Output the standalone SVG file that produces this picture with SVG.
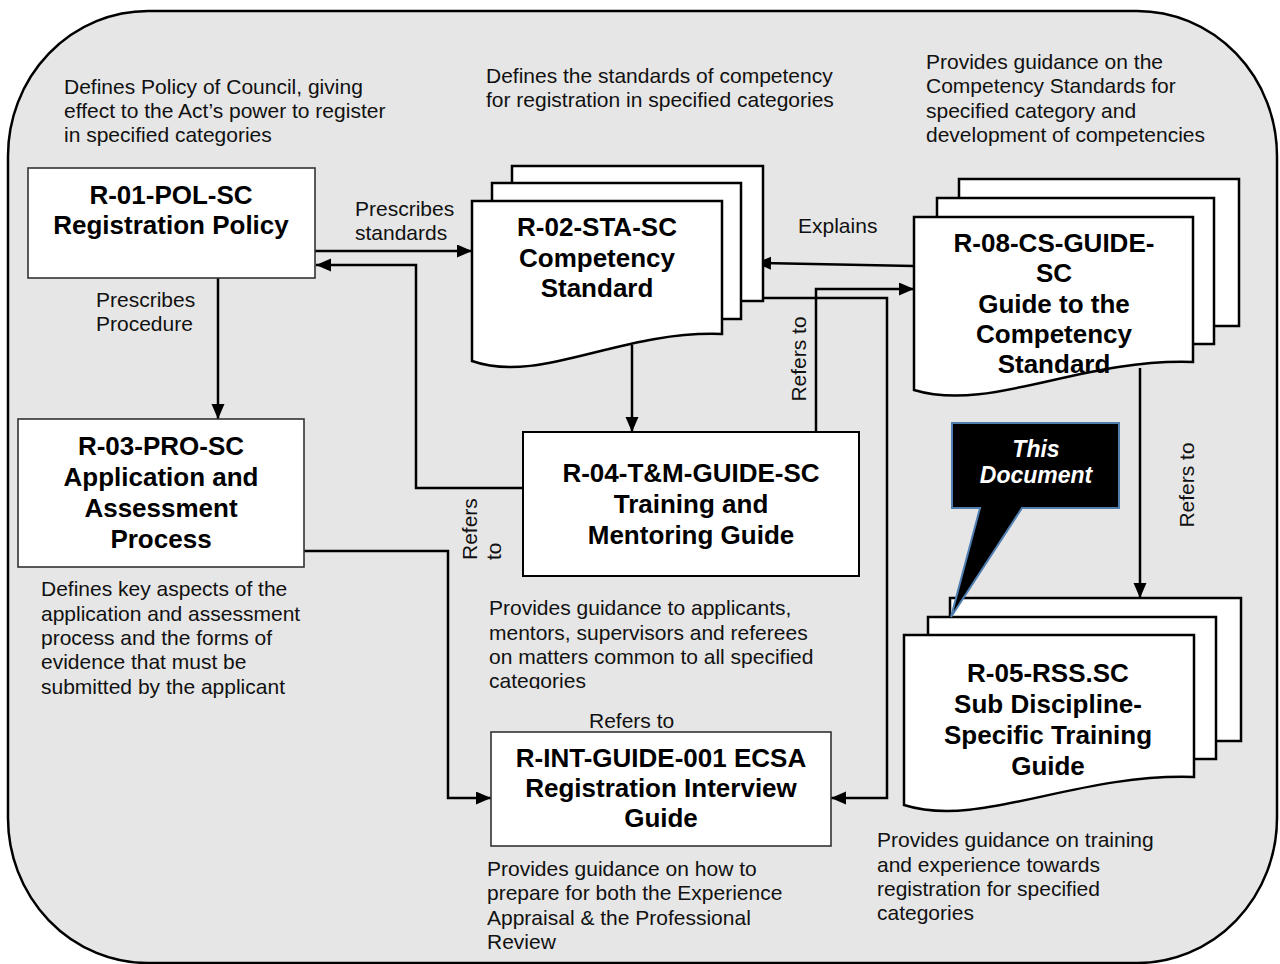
<svg xmlns="http://www.w3.org/2000/svg" width="1280" height="964" viewBox="0 0 1280 964">
<defs>
<style>
.frame{fill:#e6e6e6;stroke:#000;stroke-width:2.5}
.box{fill:#fff;stroke:#333;stroke-width:1.6}
.boxk{fill:#fff;stroke:#000;stroke-width:2}
.page{fill:#fff;stroke:#000;stroke-width:2.5}
.t{font-family:"Liberation Sans",Arial,sans-serif;font-size:21px;fill:#111}
.b{font-family:"Liberation Sans",Arial,sans-serif;font-size:26px;font-weight:bold;fill:#000;text-anchor:middle}
.ci{font-family:"Liberation Sans",Arial,sans-serif;font-size:23px;font-weight:bold;font-style:italic;fill:#fff;text-anchor:middle}
.c{fill:none;stroke:#000;stroke-width:2.5}
.ca{fill:none;stroke:#000;stroke-width:2.5;marker-end:url(#ah)}
</style>
<marker id="ah" markerUnits="userSpaceOnUse" markerWidth="16" markerHeight="14" refX="15" refY="6.5" orient="auto" viewBox="0 0 16 14">
<path d="M0,0 L15,6.5 L0,13 Z" fill="#000"/>
</marker>
<clipPath id="clip4"><rect x="480" y="590" width="380" height="99"/></clipPath>
</defs>

<rect class="frame" x="8" y="11" width="1269" height="952" rx="140" ry="145"/>

<g id="descriptions">
<text class="t" x="64" y="94">Defines Policy of Council, giving</text>
<text class="t" x="64" y="118">effect to the Act’s power to register</text>
<text class="t" x="64" y="142">in specified categories</text>
<text class="t" x="486" y="83">Defines the standards of competency</text>
<text class="t" x="486" y="107">for registration in specified categories</text>
<text class="t" x="926" y="69">Provides guidance on the</text>
<text class="t" x="926" y="93">Competency Standards for</text>
<text class="t" x="926" y="118">specified category and</text>
<text class="t" x="926" y="142">development of competencies</text>
<text class="t" x="41" y="596">Defines key aspects of the</text>
<text class="t" x="41" y="621">application and assessment</text>
<text class="t" x="41" y="645">process and the forms of</text>
<text class="t" x="41" y="669">evidence that must be</text>
<text class="t" x="41" y="694">submitted by the applicant</text>
<g clip-path="url(#clip4)">
<text class="t" x="489" y="615">Provides guidance to applicants,</text>
<text class="t" x="489" y="640">mentors, supervisors and referees</text>
<text class="t" x="489" y="664">on matters common to all specified</text>
<text class="t" x="489" y="688">categories</text>
</g>
<text class="t" x="487" y="876">Provides guidance on how to</text>
<text class="t" x="487" y="900">prepare for both the Experience</text>
<text class="t" x="487" y="925">Appraisal &amp; the Professional</text>
<text class="t" x="487" y="949">Review</text>
<text class="t" x="877" y="847">Provides guidance on training</text>
<text class="t" x="877" y="872">and experience towards</text>
<text class="t" x="877" y="896">registration for specified</text>
<text class="t" x="877" y="920">categories</text>
</g>

<g id="connectors">
<polyline class="ca" points="315,251 472,251"/>
<polyline class="ca" points="523,488 416,488 416,265 316,265"/>
<polyline class="ca" points="218,278 218,419"/>
<polyline class="ca" points="632,345 632,432"/>
<polyline class="ca" points="914,266 756,263"/>
<polyline class="ca" points="816,432 816,289 914,289"/>
<polyline class="ca" points="763,298 887,298 887,798 831,798"/>
<polyline class="ca" points="304,551 448,551 448,798 491,798"/>
<polyline class="ca" points="1140,368 1140,598"/>
<text class="t" x="355" y="216">Prescribes</text>
<text class="t" x="355" y="240">standards</text>
<text class="t" x="96" y="307">Prescribes</text>
<text class="t" x="96" y="331">Procedure</text>
<text class="t" x="798" y="233">Explains</text>
<text class="t" transform="translate(806,359) rotate(-90)" text-anchor="middle">Refers to</text>
<text class="t" transform="translate(1194,485) rotate(-90)" text-anchor="middle">Refers to</text>
<text class="t" transform="translate(477,560) rotate(-90)">Refers</text>
<text class="t" transform="translate(501,560) rotate(-90)">to</text>
<text class="t" x="589" y="728">Refers to</text>
</g>

<g id="r01">
<rect class="box" x="28" y="168" width="287" height="110"/>
<text class="b" x="171" y="204">R-01-POL-SC</text>
<text class="b" x="171" y="234">Registration Policy</text>
</g>

<g id="r02">
<rect class="page" x="512" y="166" width="251" height="135"/>
<rect class="page" x="492" y="183" width="249" height="136"/>
<path class="page" d="M472,201 H722 V334 C620,330 540,385 472,361 Z"/>
<text class="b" x="597" y="236">R-02-STA-SC</text>
<text class="b" x="597" y="267">Competency</text>
<text class="b" x="597" y="297">Standard</text>
</g>

<g id="r08">
<rect class="page" x="959" y="179" width="280" height="147"/>
<rect class="page" x="937" y="198" width="277" height="146"/>
<path class="page" d="M914,217 H1193 V362 C1080,358 990,413 914,390 Z"/>
<text class="b" x="1054" y="252">R-08-CS-GUIDE-</text>
<text class="b" x="1054" y="282">SC</text>
<text class="b" x="1054" y="313">Guide to the</text>
<text class="b" x="1054" y="343">Competency</text>
<text class="b" x="1054" y="373">Standard</text>
</g>

<g id="r03">
<rect class="box" x="18" y="419" width="286" height="148"/>
<text class="b" x="161" y="455">R-03-PRO-SC</text>
<text class="b" x="161" y="486">Application and</text>
<text class="b" x="161" y="517">Assessment</text>
<text class="b" x="161" y="548">Process</text>
</g>

<g id="r04">
<rect class="boxk" x="523" y="432" width="336" height="144"/>
<text class="b" x="691" y="482">R-04-T&amp;M-GUIDE-SC</text>
<text class="b" x="691" y="513">Training and</text>
<text class="b" x="691" y="544">Mentoring Guide</text>
</g>

<g id="rint">
<rect class="box" x="491" y="732" width="340" height="114"/>
<text class="b" x="661" y="767">R-INT-GUIDE-001 ECSA</text>
<text class="b" x="661" y="797">Registration Interview</text>
<text class="b" x="661" y="827">Guide</text>
</g>

<g id="r05">
<rect class="page" x="950" y="598" width="291" height="143"/>
<rect class="page" x="928" y="617" width="288" height="142"/>
<path class="page" d="M904,635 H1194 V777 C1075,773 980,829 904,805 Z"/>
<text class="b" x="1048" y="682">R-05-RSS.SC</text>
<text class="b" x="1048" y="713">Sub Discipline-</text>
<text class="b" x="1048" y="744">Specific Training</text>
<text class="b" x="1048" y="775">Guide</text>
</g>

<g id="callout">
<path d="M952,423 H1119 V508 H1022 L951,617 L980,508 H952 Z" fill="#000" stroke="#4f7eb0" stroke-width="2"/>
<text class="ci" x="1036" y="457">This</text>
<text class="ci" x="1036" y="483">Document</text>
</g>
</svg>
